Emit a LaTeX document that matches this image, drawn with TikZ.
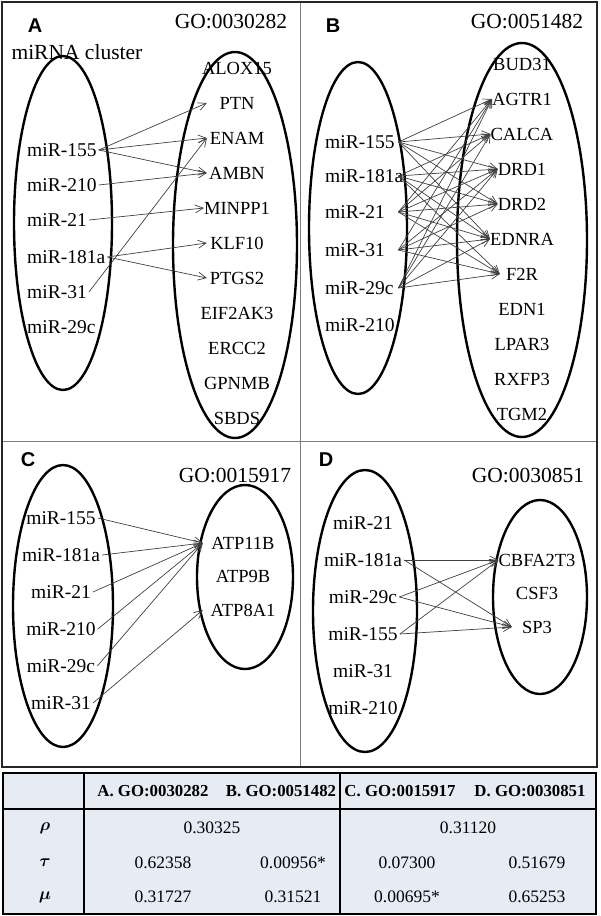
\documentclass[tikz,border=0pt]{standalone}
\usepackage{amsmath,amssymb}
\usepackage{fontspec}
\setmainfont{Liberation Serif}
\newfontfamily\panelfont{Liberation Sans}
\usepackage{tikz}
\usetikzlibrary{arrows.meta}
\definecolor{tablefill}{RGB}{231,235,244}
\definecolor{framegray}{RGB}{125,125,125}

\begin{document}
\begin{tikzpicture}[x=1pt, y=-1pt,
	mir/.style={font=\fontsize{19.5}{19.5}\selectfont, inner sep=2pt},
	gene/.style={font=\fontsize{18.5}{18.5}\selectfont, inner sep=0pt},
	goid/.style={font=\fontsize{21.5}{21.5}\selectfont},
	panel/.style={font=\panelfont\bfseries\fontsize{20}{20}\selectfont},
	blob/.style={draw, line width=2.4pt},
	link/.style={draw=black!75, line width=0.7pt, -{Straight Barb[length=8pt,width=8pt]}},
	head/.style={font=\bfseries\fontsize{16.8}{16.8}\selectfont},
	cell/.style={font=\fontsize{17.5}{17.5}\selectfont}]
	\useasboundingbox (0,0) rectangle (600,916);
	% frame of the four panels
	\draw[framegray, line width=1pt] (300,2) -- (300,767) (2,441) -- (597,441);
	\draw[black!85, line width=1.2pt] (2,2) rectangle (597,767);
	% panel A
	\node[panel] (pA) at (35,26) {A};
	\node[goid] (goA) at (231,22) {GO:0030282};
	\node[goid, anchor=west] (clusterA) at (8,52) {miRNA cluster};
	\draw[blob] (63,223) ellipse [x radius=49pt, y radius=167pt];
	\draw[blob] (235,245) ellipse [x radius=62pt, y radius=193pt];
	\foreach \m/\y in {155/150, 210/185, 21/220, 181a/257, 31/292, 29c/327}
		\node[mir, anchor=west] (A\m) at (25,\y) {miR-\m};
	\foreach \g [count=\i] in {ALOX15,PTN,ENAM,AMBN,MINPP1,KLF10,PTGS2,EIF2AK3,ERCC2,GPNMB,SBDS}
		\node[gene, minimum width=60] (A\g) at (237,{33+35*\i}) {\g};
	\foreach \m/\g in {155/PTN, 155/ENAM, 155/AMBN, 210/AMBN, 21/MINPP1, 181a/KLF10, 181a/PTGS2, 31/ENAM}
		\draw[link] (A\m.east) -- (A\g.west);
	% panel B
	\node[panel] (pB) at (333,26) {B};
	\node[goid] (goB) at (527,22) {GO:0051482};
	\draw[blob] (358,228) ellipse [x radius=49pt, y radius=166pt];
	\draw[blob] (522,240) ellipse [x radius=65pt, y radius=197pt];
	\foreach \m/\y in {155/142, 181a/176, 21/212, 31/250, 29c/288, 210/325}
		\node[mir, anchor=west] (B\m) at (323,\y) {\makebox[71pt][l]{miR-\m}};
	\foreach \g [count=\i] in {BUD31,AGTR1,CALCA,DRD1,DRD2,EDNRA,F2R,EDN1,LPAR3,RXFP3,TGM2}
		\node[gene, minimum width=44] (B\g) at (522,{29+35*\i}) {\g};
	\foreach \m/\targets in {155/{AGTR1,CALCA,DRD1,DRD2,EDNRA}, 181a/{CALCA,DRD1,DRD2,EDNRA,F2R},
			21/{AGTR1,CALCA,DRD1,DRD2,EDNRA,F2R}, 31/{AGTR1,DRD1,DRD2,EDNRA,F2R}, 29c/{AGTR1,CALCA,DRD1,EDNRA,F2R}}
		\foreach \g in \targets
			\draw[link] (B\m.east) -- (B\g.west);
	% panel C
	\node[panel] (pC) at (28,460) {C};
	\node[goid] (goC) at (235,475) {GO:0015917};
	\draw[blob] (63,606) ellipse [x radius=50pt, y radius=141pt];
	\draw[blob] (245,577) ellipse [x radius=48pt, y radius=92pt];
	\foreach \m [count=\i] in {155,181a,21,210,29c,31}
		\node[mir] (C\m) at (61,{481+37*\i}) {miR-\m};
	\foreach \g/\y in {ATP11B/543, ATP9B/576, ATP8A1/610}
		\node[gene, minimum width=80] (C\g) at (243,\y) {\g};
	\foreach \m/\g in {155/ATP11B, 181a/ATP11B, 21/ATP11B, 210/ATP11B, 29c/ATP11B, 31/ATP8A1}
		\draw[link] (C\m.east) -- (C\g.west);
	% panel D
	\node[panel] (pD) at (326,460) {D};
	\node[goid] (goD) at (528,475) {GO:0030851};
	\draw[blob] (365,611) ellipse [x radius=52pt, y radius=141pt];
	\draw[blob] (540,597) ellipse [x radius=47pt, y radius=97pt];
	\foreach \m [count=\i] in {21,181a,29c,155,31,210}
		\node[mir] (D\m) at (363,{486+37*\i}) {miR-\m};
	\foreach \g/\y in {CBFA2T3/560, CSF3/593, SP3/627}
		\node[gene, minimum width=50] (D\g) at (537,\y) {\g};
	\foreach \m/\g in {181a/CBFA2T3, 181a/SP3, 29c/CBFA2T3, 29c/SP3, 155/CBFA2T3, 155/SP3}
		\draw[link] (D\m.east) -- (D\g.west);
	% table of p-values
	\draw[line width=2.4pt, fill=tablefill] (3,773) rectangle (596,914);
	\draw[line width=2.4pt] (3,809) -- (596,809) (84,773) -- (84,914) (340,773) -- (340,914);
	\foreach \t/\x [count=\k] in {A. GO:0030282/153, B. GO:0051482/281, C. GO:0015917/400, D. GO:0030851/530}
		\node[head] (hd\k) at (\x,791) {\t};
	\foreach \s/\y [count=\k] in {\rho/828, \tau/863, \mu/897}
		\node[cell] (row\k) at (45,\y) {$\boldsymbol{\s}$};
	\node[cell] (rho1) at (212,828) {0.30325};
	\node[cell] (rho2) at (468,828) {0.31120};
	\foreach \v/\x [count=\k] in {0.62358/163, 0.00956*/293, 0.07300/407, 0.51679/537}
		\node[cell] (tau\k) at (\x,863) {\v};
	\foreach \v/\x [count=\k] in {0.31727/163, 0.31521/293, 0.00695*/407, 0.65253/537}
		\node[cell] (mu\k) at (\x,897) {\v};
\end{tikzpicture}
\end{document}
